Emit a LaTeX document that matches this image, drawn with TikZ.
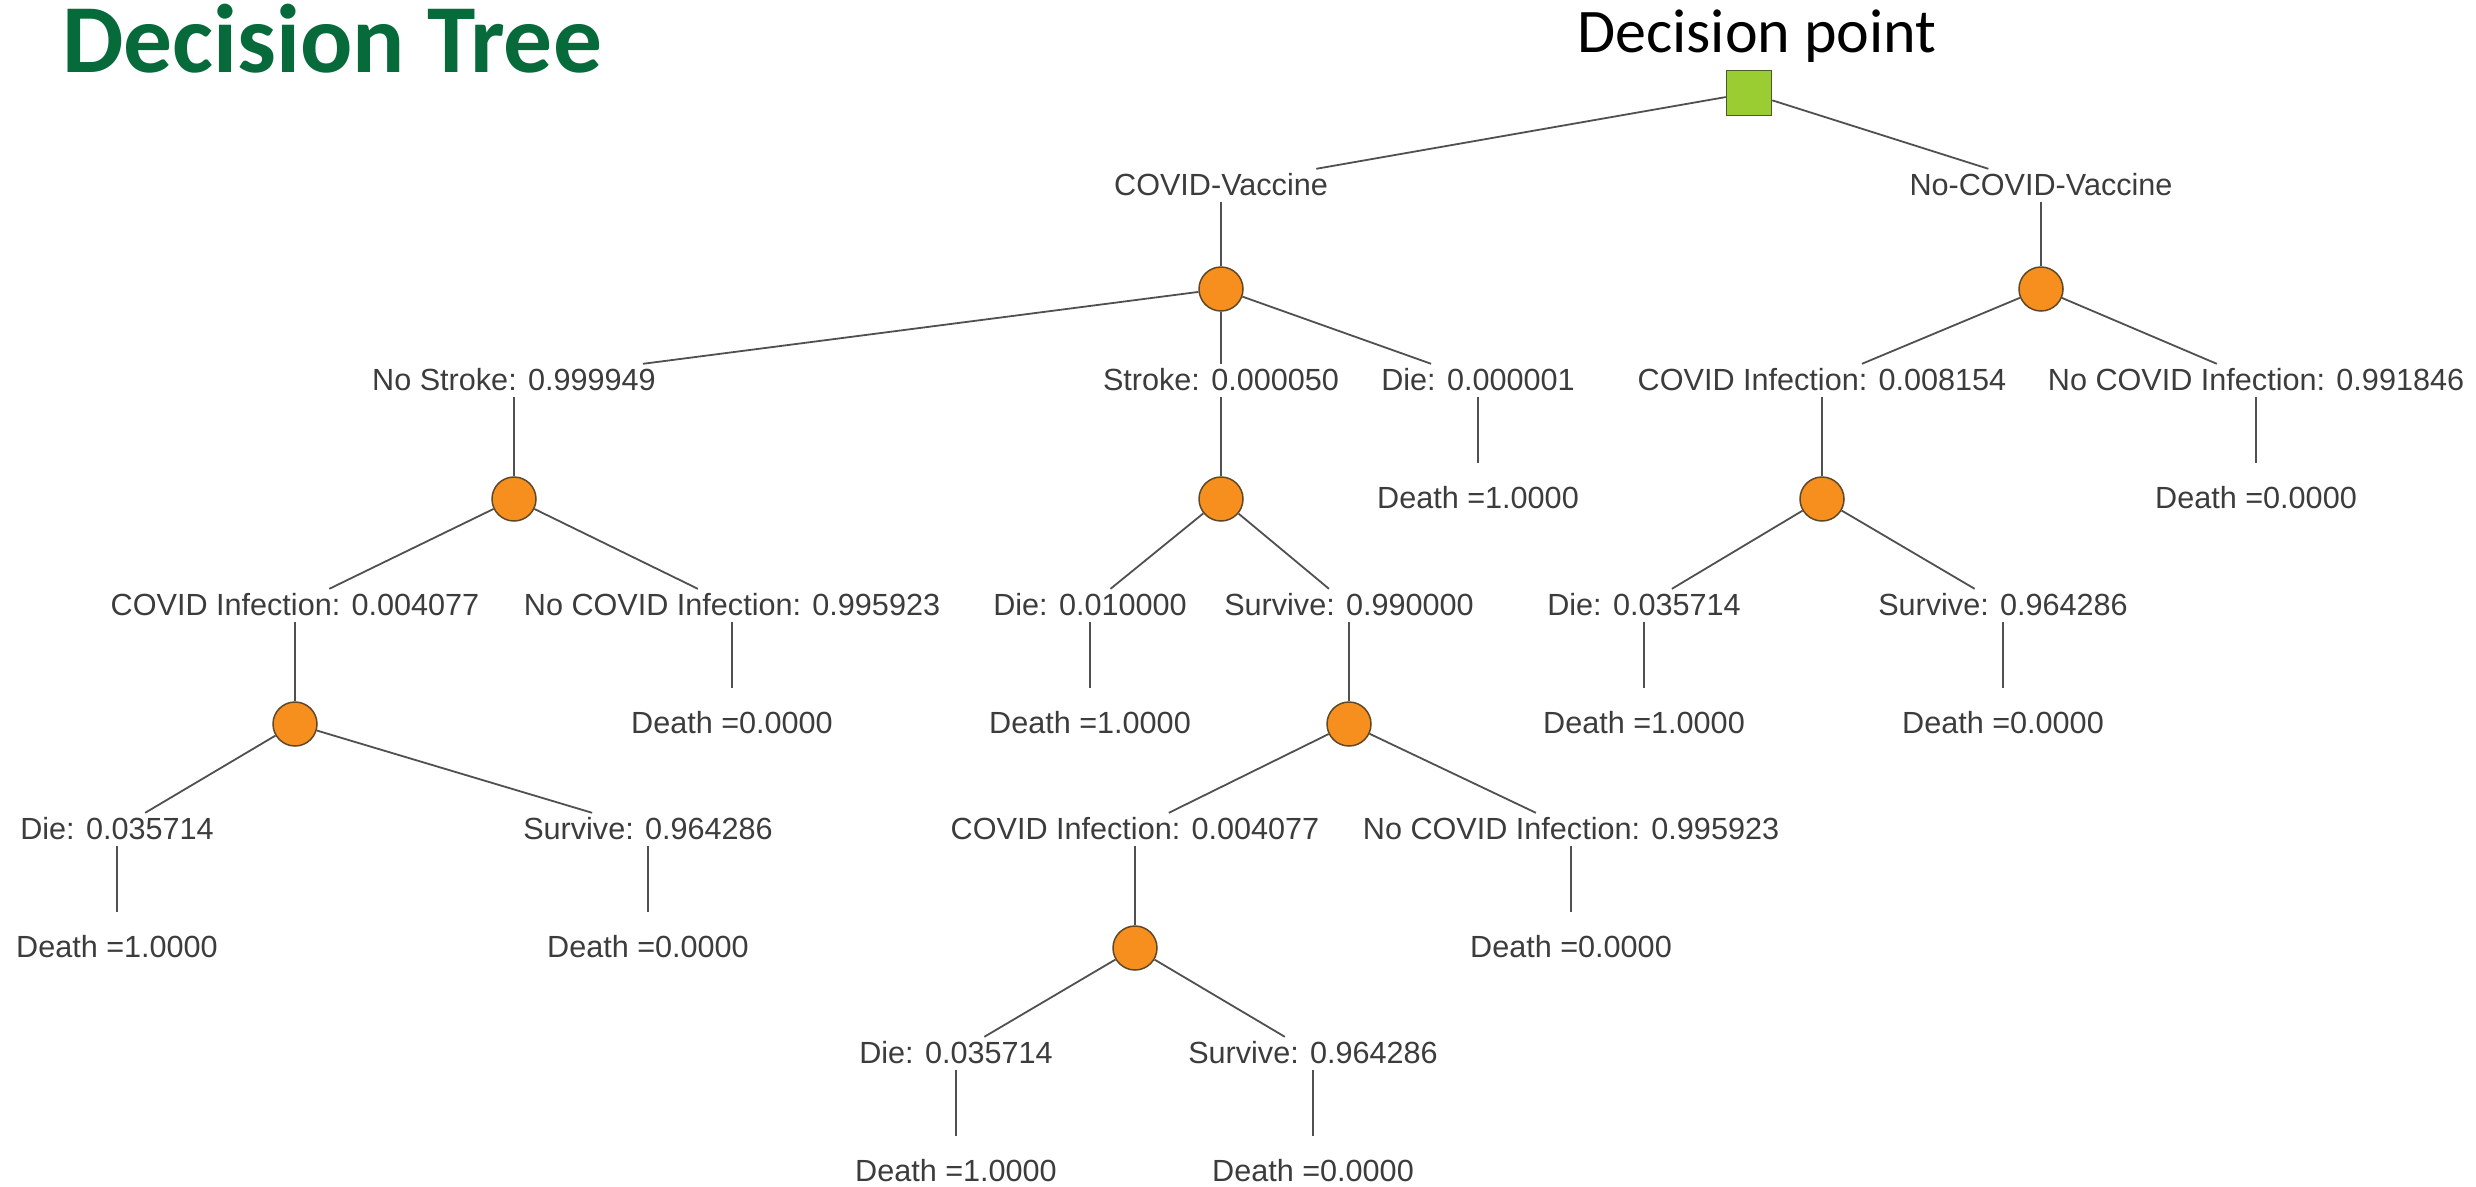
\documentclass[tikz,border=0pt]{standalone}
\usepackage{fontspec}
\setmainfont{Liberation Sans}
\newfontfamily\calfont{Carlito}
\usepackage{xcolor}
\definecolor{dtGreen}{RGB}{  6,106, 58}
\definecolor{dtText}{RGB}{ 60, 60, 60}
\definecolor{dtLine}{RGB}{ 80, 80, 80}
\definecolor{dtOrange}{RGB}{247,143, 30}
\definecolor{dtBrown}{RGB}{ 95, 72, 40}
\definecolor{dtLime}{RGB}{154,205, 50}
\definecolor{dtOlive}{RGB}{ 75, 90, 45}
\newcommand{\lblfont}{\fontsize{30.6}{36}\selectfont}

\begin{document}
\begin{tikzpicture}[x=1pt, y=-1pt,
    lbl/.style={font=\lblfont, text=dtText, inner sep=4pt, text height=22pt, text depth=3pt, anchor=base},
    leaf/.style={lbl, text height=41pt},
    chance/.style={circle, draw=dtBrown, line width=1.5pt, fill=dtOrange, minimum size=44pt, inner sep=0pt},
    dec/.style={rectangle, draw=dtOlive, line width=1.5pt, fill=dtLime, minimum size=45pt, inner sep=0pt},
    link/.style={draw=dtLine, line width=1.8pt}
  ]
  \fill[white] (0,0) rectangle (2476,1186);
  \useasboundingbox (0,0) rectangle (2476,1186);
  % headings
  \node[font={\calfont\bfseries\fontsize{97.5}{110}\selectfont}, text=dtGreen, anchor=base west, inner sep=0pt] (title) at (62,72) {Decision Tree};
  \node[font={\calfont\fontsize{62}{72}\selectfont}, anchor=base, inner sep=0pt] (dplabel) at (1757,52) {Decision point};
  \node[dec] (dp) at (1749,93) {};
  % level 1
  \node[lbl] (vac) at (1221,195) {COVID-Vaccine};
  \node[lbl] (novac) at (2041,195) {No-COVID-Vaccine};
  \node[chance] (c1) at (1221,289) {};
  \node[chance] (c2) at (2041,289) {};
  % level 2
  \node[lbl] (nost) at (514,390) {No Stroke: 0.999949};
  \node[lbl] (st) at (1221,390) {Stroke: 0.000050};
  \node[lbl] (die1) at (1478,390) {Die: 0.000001};
  \node[lbl] (inf1) at (1822,390) {COVID Infection: 0.008154};
  \node[lbl] (noinf1) at (2256,390) {No COVID Infection: 0.991846};
  \node[chance] (c3) at (514,499) {};
  \node[chance] (c4) at (1221,499) {};
  \node[chance] (c5) at (1822,499) {};
  \node[leaf] (d1) at (1478,508) {Death =1.0000};
  \node[leaf] (d2) at (2256,508) {Death =0.0000};
  % level 3
  \node[lbl] (inf2) at (295,615) {COVID Infection: 0.004077};
  \node[lbl] (noinf2) at (732,615) {No COVID Infection: 0.995923};
  \node[lbl] (die2) at (1090,615) {Die: 0.010000};
  \node[lbl] (surv1) at (1349,615) {Survive: 0.990000};
  \node[lbl] (die3) at (1644,615) {Die: 0.035714};
  \node[lbl] (surv2) at (2003,615) {Survive: 0.964286};
  \node[chance] (c6) at (295,724) {};
  \node[chance] (c7) at (1349,724) {};
  \node[leaf] (d3) at (732,733) {Death =0.0000};
  \node[leaf] (d4) at (1090,733) {Death =1.0000};
  \node[leaf] (d5) at (1644,733) {Death =1.0000};
  \node[leaf] (d6) at (2003,733) {Death =0.0000};
  % level 4
  \node[lbl] (die4) at (117,839) {Die: 0.035714};
  \node[lbl] (surv3) at (648,839) {Survive: 0.964286};
  \node[lbl] (inf3) at (1135,839) {COVID Infection: 0.004077};
  \node[lbl] (noinf3) at (1571,839) {No COVID Infection: 0.995923};
  \node[chance] (c8) at (1135,948) {};
  \node[leaf] (d7) at (117,957) {Death =1.0000};
  \node[leaf] (d8) at (648,957) {Death =0.0000};
  \node[leaf] (d9) at (1571,957) {Death =0.0000};
  % level 5
  \node[lbl] (die5) at (956,1063) {Die: 0.035714};
  \node[lbl] (surv4) at (1313,1063) {Survive: 0.964286};
  \node[leaf] (d10) at (956,1181) {Death =1.0000};
  \node[leaf] (d11) at (1313,1181) {Death =0.0000};
  % branches
  \foreach \a/\b in {dp/vac, dp/novac, vac/c1, novac/c2,
      c1/nost, c1/st, c1/die1, c2/inf1, c2/noinf1,
      nost/c3, st/c4, die1/d1, inf1/c5, noinf1/d2,
      c3/inf2, c3/noinf2, c4/die2, c4/surv1, c5/die3, c5/surv2,
      inf2/c6, noinf2/d3, die2/d4, surv1/c7, die3/d5, surv2/d6,
      c6/die4, c6/surv3, c7/inf3, c7/noinf3,
      die4/d7, surv3/d8, inf3/c8, noinf3/d9,
      c8/die5, c8/surv4, die5/d10, surv4/d11}
    \draw[link] (\a) -- (\b);
\end{tikzpicture}
\end{document}
